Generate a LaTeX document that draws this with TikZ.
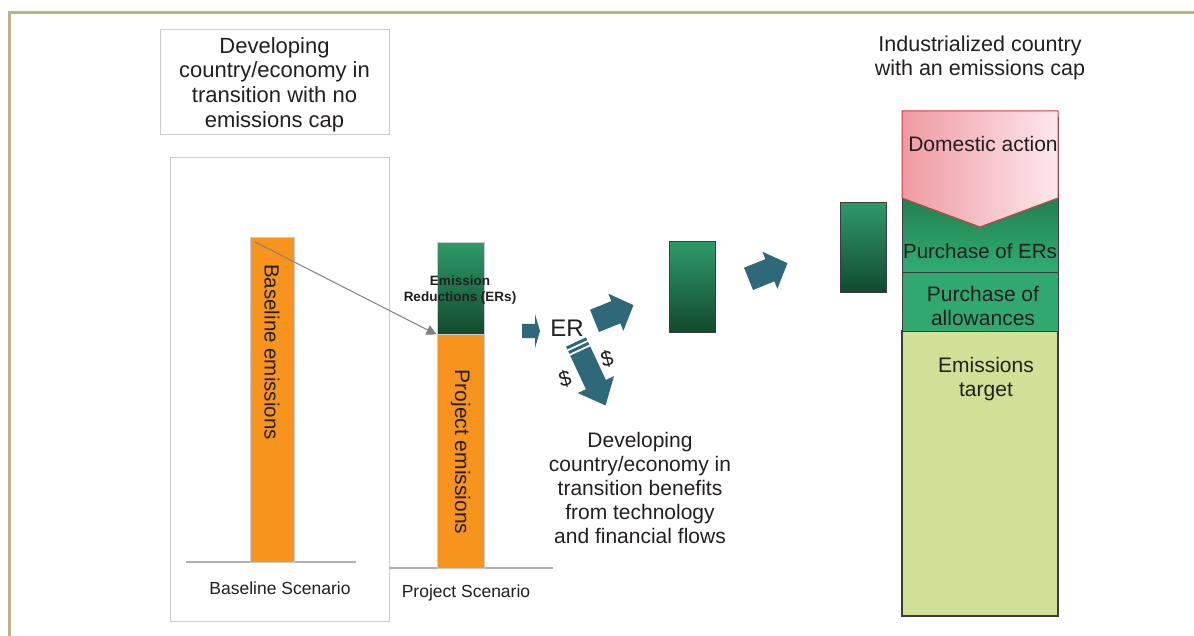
\documentclass[tikz,border=0pt]{standalone}
\usepackage{fontspec}
\setmainfont{Liberation Sans}
\usetikzlibrary{arrows.meta}
\definecolor{framecol}{HTML}{BCB386}
\definecolor{boxgray}{HTML}{CCCCCC}
\definecolor{linegray}{HTML}{B0B0B0}
\definecolor{orangebar}{HTML}{F7941D}
\definecolor{gtop}{HTML}{2E9A68}
\definecolor{gbot}{HTML}{124A2E}
\definecolor{tealarr}{HTML}{2F6878}
\definecolor{txtcol}{HTML}{231F20}
\definecolor{pinkl}{HTML}{F09AA2}
\definecolor{pinkr}{HTML}{FDE8EC}
\definecolor{pinkedge}{HTML}{D03848}
\definecolor{ertop}{HTML}{17502F}
\definecolor{erbot}{HTML}{2FAE72}
\definecolor{allowcol}{HTML}{30A870}
\definecolor{targetcol}{HTML}{D0E096}
\definecolor{stackedge}{HTML}{3C3C3C}
\begin{document}
\begin{tikzpicture}[x=1pt,y=-1pt,
  txt/.style={text=txtcol, align=center, inner sep=0pt, font=\fontsize{21.5}{24.5}\selectfont},
  smalltxt/.style={text=txtcol, align=center, inner sep=0pt, font=\fontsize{17.5}{19}\selectfont},
  graybox/.style={draw=boxgray, line width=1pt, fill=none, inner sep=0pt},
  obar/.style={fill=orangebar, draw=boxgray, line width=0.8pt, inner sep=0pt},
  gbox/.style={top color=gtop, bottom color=gbot, draw=stackedge, line width=1pt, inner sep=0pt},
  ground/.style={draw=linegray, line width=1.5pt},
  barrow/.pic={\fill[tealarr] (-21,-12) -- (2,-12) -- (2,-20) -- (21,0) -- (2,20) -- (2,12) -- (-21,12) -- cycle;},
  erarrow/.pic={\fill[tealarr] (-9,-7) -- (4,-7) -- (4,-17) -- (9,0) -- (4,17) -- (4,7) -- (-9,7) -- cycle;},
  striparrow/.pic={
    \fill[tealarr] (0,-11) rectangle (3,11);
    \fill[tealarr] (5,-11) rectangle (8,11);
    \fill[tealarr] (10,-11) -- (47,-11) -- (47,-20) -- (70,0) -- (47,20) -- (47,11) -- (10,11) -- cycle;}
]
\useasboundingbox (0,0) rectangle (1194,636);
\fill[white] (0,0) rectangle (1194,636);
\draw[framecol, line width=3pt] (9,636) -- (9,13) -- (1194,13);

% top-left caption box
\node[graybox, minimum width=229pt, minimum height=105pt] (devbox) at (274.5,82.5) {};
\node[txt, font=\fontsize{22}{24.6}\selectfont] (devtxt) at (274.5,84.5) {Developing\\country/economy in\\transition with no\\emissions cap};

% baseline scenario
\node[graybox, minimum width=219pt, minimum height=463pt] (basebox) at (279.5,389.5) {};
\coordinate (bg1) at (186,562);
\coordinate (bg2) at (356,562);
\draw[ground] (bg1) -- (bg2);
\node[obar, minimum width=44pt, minimum height=325pt] (basebar) at (272,399.5) {};
\node[txt, font=\fontsize{20.5}{24}\selectfont, rotate=-90] (basetxt) at (272,352) {Baseline emissions};
\node[smalltxt] (basescen) at (280,588) {Baseline Scenario};

% project scenario
\coordinate (pg1) at (389,568);
\coordinate (pg2) at (553,568);
\draw[ground] (pg1) -- (pg2);
\node[obar, minimum width=47pt, minimum height=234pt] (projbar) at (460.5,451) {};
\node[gbox, draw=boxgray, minimum width=47pt, minimum height=91pt] (ergreen) at (460.5,288.5) {};
\node[txt, font=\fontsize{21}{24}\selectfont, rotate=-90] (projtxt) at (460.5,452) {Project emissions};
\node[text=txtcol, align=center, inner sep=0pt, font=\bfseries\fontsize{13.5}{16}\selectfont] (ertxt) at (460,290) {Emission\\Reductions (ERs)};
\node[smalltxt] (projscen) at (466,593) {Project Scenario};

% gray arrow
\coordinate (gstart) at (255,242);
\draw[gray, line width=1pt, -{Triangle[length=10pt,width=10pt]}] (gstart) -- (ergreen.south west);

% ER flow
\pic at (531,331) {erarrow};
\node[text=txtcol, inner sep=0pt, font=\fontsize{24}{26}\selectfont] (er) at (567,328) {ER};
\pic[rotate=-65] at (576,342) {striparrow};
\node[txt, rotate=15] (dollar1) at (565,379) {\$};
\node[txt, rotate=15] (dollar2) at (607,359) {\$};
\node[txt, font=\fontsize{21}{24}\selectfont] (benefit) at (640,488) {Developing\\country/economy in\\transition benefits\\from technology\\and financial flows};

\pic[rotate=22] at (614,313) {barrow};
\node[gbox, minimum width=46pt, minimum height=90pt] (g1) at (692,287) {};
\pic[rotate=22] at (768,271) {barrow};
\node[gbox, minimum width=46pt, minimum height=90pt] (g2) at (863,248) {};

% industrialized country
\node[txt] (indtxt) at (980,58) {Industrialized country\\with an emissions cap};
\node[inner sep=0pt, fill=targetcol, draw=stackedge, line width=1.5pt, minimum width=156pt, minimum height=285pt] (target) at (980,473.5) {};
\node[inner sep=0pt, fill=allowcol, draw=stackedge, line width=1pt, minimum width=156pt, minimum height=58pt] (allow) at (980,302) {};
\node[inner sep=0pt, top color=ertop, bottom color=erbot, draw=stackedge, line width=1pt, minimum width=156pt, minimum height=155pt] (erbuy) at (980,195.5) {};
\coordinate (d1) at (902,111);
\coordinate (d2) at (1058,111);
\coordinate (d3) at (1058,198);
\coordinate (d4) at (980,227);
\coordinate (d5) at (902,198);
\shade[left color=pinkl, right color=pinkr] (d1) -- (d2) -- (d3) -- (d4) -- (d5) -- cycle;
\draw[pinkedge, line width=1pt] (d1) -- (d2) -- (d3) -- (d4) -- (d5) -- cycle;
\node[txt, font=\fontsize{21}{24}\selectfont] (domtxt) at (983,144) {Domestic action};
\node[txt, font=\fontsize{20.5}{24}\selectfont] (ertxt2) at (980,251) {Purchase of ERs};
\node[txt, font=\fontsize{21}{24}\selectfont] (allowtxt) at (983,306) {Purchase of\\allowances};
\node[txt, font=\fontsize{21}{24}\selectfont] (targettxt) at (986,379) {Emissions\\target};
\end{tikzpicture}
\end{document}
